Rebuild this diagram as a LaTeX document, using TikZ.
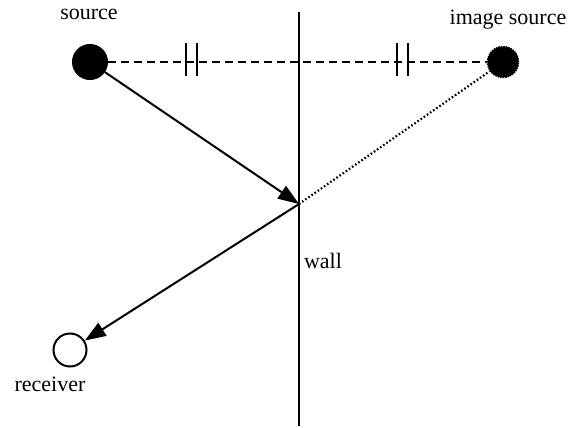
\documentclass[tikz,border=0pt]{standalone}
\usepackage{fontspec}
\setmainfont{Liberation Serif}
\usetikzlibrary{arrows.meta}
\begin{document}
\begin{tikzpicture}[x=1pt,y=-1pt,
  lbl/.style={font=\fontsize{22}{24}\selectfont, inner sep=0pt, anchor=base},
  conn/.style={line width=2pt},
  arr/.style={conn,-{Triangle[length=21pt,width=15pt]}},
  tick/.style={line width=2.4pt}]
\useasboundingbox (0,0) rectangle (573,428);
\node[circle, fill=black, draw=black, line width=1pt, minimum size=35pt, inner sep=0pt] (src) at (90,62) {};
\node[circle, fill=black, draw=black, densely dotted, line width=1.5pt, minimum size=31pt, inner sep=0pt] (img) at (503,62) {};
\node[circle, draw=black, line width=2pt, minimum size=33pt, inner sep=0pt] (rcv) at (70,350) {};
\coordinate (wtop) at (299,12);
\coordinate (wbot) at (299,426);
\coordinate (refl) at (299,204);
\draw[line width=2.4pt] (wtop) -- (wbot);
\draw[conn, dash pattern=on 8pt off 5pt] (src) -- (img);
\draw[tick] (186,43) -- (186,76);
\draw[tick] (197,43) -- (197,76);
\draw[tick] (397,43) -- (397,76);
\draw[tick] (408,43) -- (408,76);
\draw[arr] (src) -- (refl);
\draw[arr] (refl) -- (rcv);
\draw[line width=2.2pt, dash pattern=on 1.6pt off 2.2pt] (refl) -- (img);
\node[lbl] (lsrc) at (89,20) {source};
\node[lbl] (limg) at (508,25) {image source};
\node[lbl] (lwall) at (323,268) {wall};
\node[lbl] (lrcv) at (50,391) {receiver};
\end{tikzpicture}
\end{document}
